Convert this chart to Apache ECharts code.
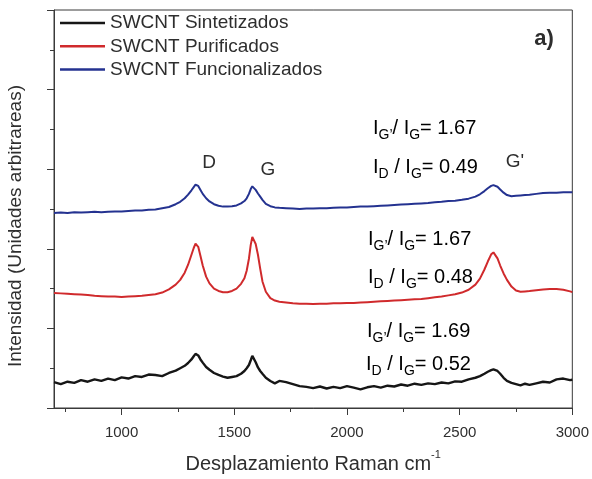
<!DOCTYPE html>
<html>
<head>
<meta charset="utf-8">
<script src="https://cdn.jsdelivr.net/npm/echarts@6/dist/echarts.min.js"></script>
<style>
html,body{margin:0;padding:0;background:#fff;}
#chart{width:592px;height:479px;}
</style>
</head>
<body>
<div id="chart"></div>
<script>
// ---- data ----
const seriesNames = ['SWCNT Sintetizados', 'SWCNT Purificados', 'SWCNT Funcionalizados'];
const wavenumber = [700,730,760,790,820,850,880,910,940,970,1000,1030,1060,1090,1120,1150,1180,1210,1240,1260,1280,1295,1310,1320,1328,1334,1340,1350,1360,1375,1390,1410,1430,1450,1470,1490,1510,1530,1545,1555,1565,1573,1580,1586,1595,1605,1615,1625,1640,1660,1680,1700,1730,1760,1790,1820,1850,1880,1910,1940,1970,2000,2030,2060,2090,2120,2150,2180,2210,2240,2270,2300,2330,2360,2390,2420,2450,2480,2510,2540,2570,2590,2610,2625,2640,2650,2658,2668,2680,2695,2710,2730,2750,2770,2790,2810,2840,2870,2900,2930,2960,2990,3000];
const sintetizados = [0.65,0.60,0.66,0.63,0.70,0.66,0.72,0.68,0.74,0.70,0.77,0.74,0.80,0.78,0.84,0.83,0.80,0.88,0.94,1.00,1.06,1.13,1.22,1.30,1.36,1.38,1.32,1.22,1.14,1.03,0.96,0.88,0.83,0.79,0.76,0.78,0.80,0.86,0.93,1.00,1.08,1.20,1.31,1.28,1.15,1.02,0.93,0.86,0.76,0.68,0.62,0.68,0.65,0.60,0.55,0.53,0.50,0.54,0.49,0.53,0.50,0.55,0.51,0.47,0.52,0.55,0.51,0.56,0.54,0.59,0.56,0.61,0.58,0.62,0.60,0.64,0.62,0.67,0.66,0.72,0.76,0.80,0.86,0.91,0.95,0.97,0.95,0.93,0.86,0.76,0.68,0.63,0.60,0.57,0.61,0.58,0.62,0.66,0.64,0.72,0.74,0.70,0.71];
const purificados = [2.89,2.88,2.87,2.86,2.85,2.84,2.82,2.81,2.80,2.80,2.79,2.80,2.81,2.82,2.84,2.86,2.90,2.98,3.10,3.22,3.40,3.60,3.85,4.02,4.13,4.15,4.05,3.82,3.58,3.30,3.13,3.00,2.94,2.91,2.91,2.94,3.00,3.12,3.26,3.45,3.75,4.10,4.30,4.31,4.12,3.85,3.50,3.18,2.92,2.76,2.70,2.67,2.65,2.63,2.62,2.62,2.61,2.62,2.62,2.63,2.63,2.64,2.64,2.65,2.66,2.67,2.68,2.69,2.70,2.71,2.72,2.73,2.74,2.76,2.78,2.80,2.83,2.86,2.90,2.97,3.10,3.25,3.48,3.68,3.86,3.91,3.88,3.76,3.58,3.38,3.22,3.05,2.95,2.92,2.93,2.94,2.96,2.98,2.99,2.99,2.97,2.93,2.91];
const funcionalizados = [4.90,4.91,4.90,4.92,4.91,4.92,4.93,4.92,4.93,4.94,4.94,4.95,4.96,4.96,4.98,4.99,5.02,5.05,5.12,5.18,5.27,5.36,5.47,5.55,5.61,5.63,5.58,5.48,5.38,5.27,5.19,5.12,5.08,5.06,5.06,5.07,5.09,5.14,5.20,5.27,5.38,5.50,5.57,5.56,5.48,5.39,5.31,5.23,5.13,5.07,5.04,5.03,5.02,5.01,5.00,5.01,5.01,5.02,5.02,5.03,5.04,5.04,5.05,5.06,5.06,5.07,5.08,5.09,5.10,5.11,5.12,5.13,5.14,5.15,5.17,5.18,5.20,5.21,5.23,5.26,5.31,5.37,5.45,5.52,5.58,5.60,5.60,5.56,5.49,5.41,5.35,5.32,5.33,5.34,5.35,5.36,5.38,5.40,5.41,5.41,5.42,5.42,5.42];
const xMajorTicks = [1000,1500,2000,2500,3000];
const xMinorTicks = [750,1250,1750,2250,2750];
const yMajorTicks = [0,2,4,6,8,10];
const yMinorTicks = [1,3,5,7,9];
const ratioGpG = ['1.69','1.67','1.67'];
const ratioDG = ['0.52','0.48','0.49'];
const peakLabels = ['D','G',"G'"];

const colors = ['#161616','#d02a2c','#243290'];
const FONT = '"Liberation Sans", Arial, sans-serif';
const txt = '#2e2e2e';

function pairs(ys){ return wavenumber.map((x,i)=>[x,ys[i]]); }

const chart = echarts.init(document.getElementById('chart'), null, {renderer:'canvas'});

const rich = {
  m: {fontSize:20, lineHeight:28, fontFamily:FONT, color:txt, verticalAlign:'middle'},
  s: {fontSize:14, lineHeight:12, fontFamily:FONT, color:txt, verticalAlign:'bottom'}
};
function ratioText(x, yc, sub, val){
  return {type:'text', left:x, top:yc-11, z:10,
    style:{text:'{m|I}{s|'+sub+'}{m|'+(sub==="G\u2019"?'/ I':' / I')+'}{s|G}{m|= '+val+'}', rich:rich, font:'20px '+FONT}};
}
function plain(x, y, t, size, bold){
  return {type:'text', x:x, y:y, z:10, style:{text:t, fill:txt, font:(bold?'bold ':'')+size+'px '+FONT, align:'center', verticalAlign:'middle'}};
}

const graphics = [
  {type:'text', x:16, y:226, rotation:Math.PI/2, z:10,
   style:{text:'Intensidad (Unidades arbitrareas)', fill:txt, font:'19px '+FONT, align:'center', verticalAlign:'middle'}},
  plain(544, 39, 'a)', 22, true),
  plain(209, 163, peakLabels[0], 19),
  plain(268, 170, peakLabels[1], 19),
  plain(515, 162, peakLabels[2], 19),
  ratioText(373, 129, "G\u2019", ratioGpG[2]),
  ratioText(373, 168, 'D', ratioDG[2]),
  ratioText(368, 240, "G\u2019", ratioGpG[1]),
  ratioText(368, 278, 'D', ratioDG[1]),
  ratioText(367, 332, "G\u2019", ratioGpG[0]),
  ratioText(366, 365, 'D', ratioDG[0])
];

const axisCol = '#3a3a3a';
const option = {
  animation:false,
  backgroundColor:'#fff',
  grid:{left:54, right:19, top:10, bottom:67, show:true, borderColor:axisCol, borderWidth:1},
  legend:{
    orient:'vertical', left:60, top:13, padding:0, itemGap:3.3,
    itemWidth:45, itemHeight:2.5, icon:'rect',
    data:seriesNames,
    textStyle:{fontSize:19, lineHeight:20, fontFamily:FONT, color:txt}
  },
  xAxis:[
    {type:'value', min:700, max:3000, position:'bottom',
     name:'Desplazamiento Raman {sup|cm}{s|-1}', nameLocation:'middle', nameGap:41,
     nameTextStyle:{fontSize:20, fontFamily:FONT, color:txt,
       rich:{sup:{fontSize:20, fontFamily:FONT, color:txt}, s:{fontSize:11, fontFamily:FONT, color:txt, verticalAlign:'top', lineHeight:30}}},
     axisLine:{show:true, onZero:false, lineStyle:{color:axisCol, width:1}},
     axisTick:{show:true, inside:false, length:7, customValues:xMajorTicks, lineStyle:{color:axisCol}},
     axisLabel:{show:true, customValues:xMajorTicks, fontSize:15, fontFamily:FONT, color:txt, margin:17,
       formatter:function(v){return String(v);}},
     splitLine:{show:false}},
    {type:'value', min:700, max:3000, position:'bottom',
     axisLine:{show:false},
     axisTick:{show:true, inside:false, length:4, customValues:xMinorTicks, lineStyle:{color:axisCol}},
     axisLabel:{show:false}, splitLine:{show:false}}
  ],
  yAxis:[
    {type:'value', min:0, max:10, interval:1, position:'left',
     axisLine:{show:true, onZero:false, lineStyle:{color:axisCol, width:1}},
     axisTick:{show:true, inside:false, length:7, customValues:yMajorTicks, lineStyle:{color:axisCol}},
     axisLabel:{show:false}, splitLine:{show:false}},
    {type:'value', min:0, max:10, interval:1, position:'left',
     axisLine:{show:false},
     axisTick:{show:true, inside:false, length:4, customValues:yMinorTicks, lineStyle:{color:axisCol}},
     axisLabel:{show:false}, splitLine:{show:false}}
  ],
  series:[
    {name:seriesNames[0], type:'line', data:pairs(sintetizados), showSymbol:false, symbol:'none', color:colors[0], lineStyle:{width:2.4, color:colors[0]}, z:3},
    {name:seriesNames[1], type:'line', data:pairs(purificados), showSymbol:false, symbol:'none', color:colors[1], lineStyle:{width:2, color:colors[1]}, z:3},
    {name:seriesNames[2], type:'line', data:pairs(funcionalizados), showSymbol:false, symbol:'none', color:colors[2], lineStyle:{width:2, color:colors[2]}, z:3}
  ],
  graphic:graphics
};
chart.setOption(option);
</script>
</body>
</html>
